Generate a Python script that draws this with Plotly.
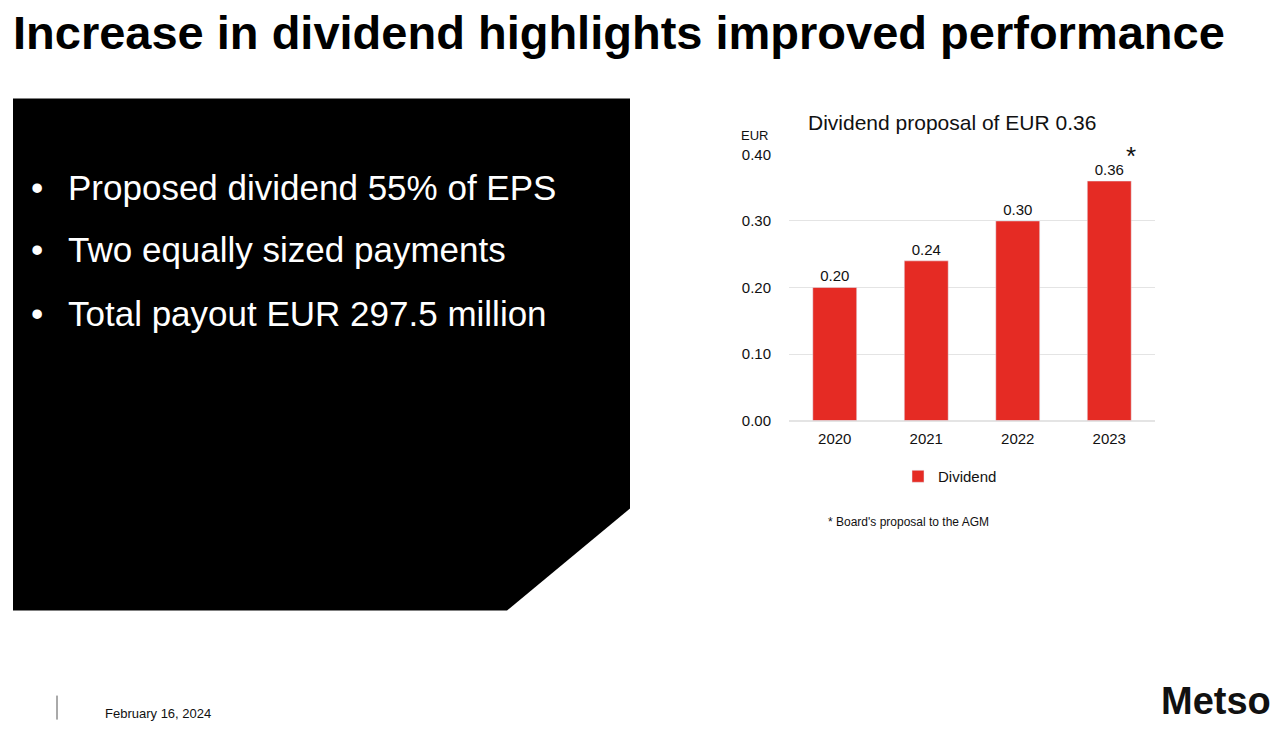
import plotly.graph_objects as go

years = ["2020", "2021", "2022", "2023"]
dividend = [0.20, 0.24, 0.30, 0.36]
y_ticks = [0.0, 0.1, 0.2, 0.3, 0.4]
bullets = ["Proposed dividend 55% of EPS", "Two equally sized payments", "Total payout EUR 297.5 million"]

W, H = 1280, 732
def px(x):
    return x / W
def py(y):
    # the rendered page appears slightly compressed vertically about its centre
    yf = H / 2 + (y - H / 2) / 0.9765
    return 1 - yf / H

FONT = "Liberation Sans, Arial, sans-serif"
RED = "#e52b24"

fig = go.Figure()
fig.add_trace(go.Bar(
    x=years, y=dividend, name="Dividend", marker_color=RED,
    width=0.48, text=[f"{v:.2f}" for v in dividend], textposition="outside",
    textfont=dict(size=15, color="#111", family=FONT), cliponaxis=False,
))

fig.update_layout(
    width=W, height=H, margin=dict(l=0, r=0, t=0, b=0),
    paper_bgcolor="white", plot_bgcolor="white",
    font=dict(family=FONT, color="#111"),
    xaxis=dict(type="category", domain=[px(789), px(1155)], showline=False,
               ticks="outside", ticklen=4, tickcolor="rgba(0,0,0,0)",
               tickfont=dict(size=15, color="#111"), showgrid=False),
    yaxis=dict(domain=[py(420), py(154)], range=[0, 0.4], tickvals=y_ticks,
               tickformat=".2f", gridcolor="#e4e4e4", gridwidth=1,
               zeroline=True, zerolinecolor="#e4e4e4", showline=False,
               tickfont=dict(size=15, color="#111"), ticklabelstandoff=17),
    showlegend=True,
    legend=dict(x=px(898), y=py(476), xanchor="left", yanchor="middle",
                font=dict(size=15, color="#111"), bgcolor="rgba(0,0,0,0)"),
)

path = (f"M {px(13)},{py(98)} L {px(630)},{py(98)} L {px(630)},{py(508)} "
        f"L {px(507)},{py(610)} L {px(13)},{py(610)} Z")
fig.add_shape(type="path", path=path, xref="paper", yref="paper",
              fillcolor="black", line=dict(width=0), layer="below")
fig.add_shape(type="line", xref="paper", yref="paper", x0=px(57), x1=px(57),
              y0=py(695), y1=py(719), line=dict(color="#555", width=1))

ann = []
ann.append(dict(text="<b>Increase in dividend highlights improved performance</b>",
                x=px(11), y=py(32), xanchor="left", yanchor="middle",
                font=dict(size=47, color="black", family=FONT)))
for i, b in enumerate(bullets):
    yy = [187, 249, 313][i]
    ann.append(dict(text="•", x=px(29), y=py(yy), xanchor="left", yanchor="middle",
                    font=dict(size=35, color="white", family=FONT)))
    ann.append(dict(text=b, x=px(66), y=py(yy), xanchor="left", yanchor="middle",
                    font=dict(size=35, color="white", family=FONT)))
ann.append(dict(text="Dividend proposal of EUR 0.36", x=px(806), y=py(122),
                xanchor="left", yanchor="middle", font=dict(size=21, color="#111", family=FONT)))
ann.append(dict(text="EUR", x=px(739), y=py(135), xanchor="left", yanchor="middle",
                font=dict(size=13, color="#111", family=FONT)))
ann.append(dict(text="*", x=px(1124), y=py(156), xanchor="left", yanchor="middle",
                font=dict(size=26, color="#111", family=FONT)))
ann.append(dict(text="* Board's proposal to the AGM", x=px(826), y=py(521),
                xanchor="left", yanchor="middle", font=dict(size=12, color="#111", family=FONT)))
ann.append(dict(text="February 16, 2024", x=px(103), y=py(713), xanchor="left",
                yanchor="middle", font=dict(size=13, color="#111", family=FONT)))
ann.append(dict(text="<b>Metso</b>", x=px(1273), y=py(700), xanchor="right",
                yanchor="middle", font=dict(size=38, color="#111", family=FONT)))
for a in ann:
    a.update(xref="paper", yref="paper", showarrow=False)
fig.update_layout(annotations=ann)

fig.write_html("out.html")
